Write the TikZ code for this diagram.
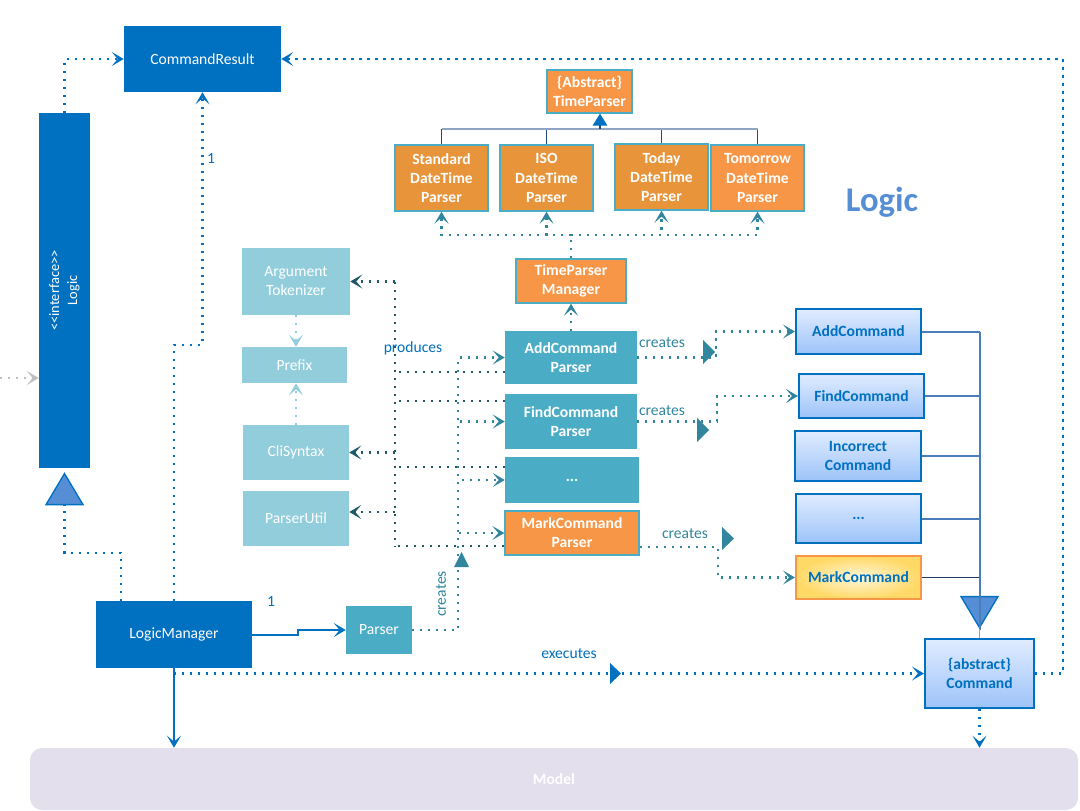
\documentclass[tikz,border=0pt]{standalone}
\usepackage{fontspec}
\setmainfont{Carlito}
\usetikzlibrary{arrows.meta,calc}

\definecolor{cBlue}{HTML}{0070C0}
\definecolor{cLight}{HTML}{92CDDC}
\definecolor{cTeal}{HTML}{4BACC6}
\definecolor{cOrange}{HTML}{F79646}
\definecolor{cOrangeD}{HTML}{E8943A}
\definecolor{cTealLine}{HTML}{31859C}
\definecolor{cTealDark}{HTML}{215968}
\definecolor{cGray}{HTML}{BFBFBF}
\definecolor{cGradTop}{HTML}{E0ECFF}
\definecolor{cGradBot}{HTML}{9DC3F9}
\definecolor{cMarkIn}{HTML}{FFF6DA}
\definecolor{cMarkOut}{HTML}{FFD966}
\definecolor{cModel}{HTML}{E4DFEC}
\definecolor{cTitle}{HTML}{558ED5}
\definecolor{cTri}{HTML}{558ED5}
\definecolor{cHierH}{HTML}{8EA4C2}
\definecolor{cHierV}{HTML}{1F497D}
\definecolor{cInh}{HTML}{4A7EBB}
\definecolor{cInhD}{HTML}{1F3864}

\newcommand{\diagfont}{\fontsize{11.7}{14.3}\selectfont}

\tikzset{
  every node/.style={font=\diagfont, inner sep=0pt, align=center},
  sz/.style 2 args={minimum width=#1*0.75pt, minimum height=#2*0.75pt},
  darkbox/.style={fill=cBlue, text=white},
  lightbox/.style={fill=cLight, text=white},
  tealbox/.style={fill=cTeal, text=white, font=\diagfont\bfseries},
  orangebox/.style={fill=cOrange, draw=cTeal, line width=1pt, text=white, font=\diagfont\bfseries},
  orangeboxd/.style={orangebox, fill=cOrangeD},
  cmdbox/.style={draw=cBlue, line width=1.6pt, top color=cGradTop, bottom color=cGradBot, text=cBlue, font=\diagfont\bfseries},
  markbox/.style={draw=cOrange, line width=1.6pt, inner color=cMarkIn, outer color=cMarkOut, text=cBlue, font=\diagfont\bfseries},
  modelbox/.style={fill=cModel, rounded corners=9pt, text=white, font=\diagfont\bfseries},
  dotbase/.style={line width=1.6pt, dash pattern=on 1.6pt off 4.4pt},
  dotblue/.style={dotbase, draw=cBlue},
  dotteal/.style={dotbase, draw=cTealLine},
  dotdark/.style={dotbase, draw=cTealDark},
  dotlight/.style={dotbase, draw=cLight},
  dotgray/.style={dotbase, draw=cGray},
  solidblue/.style={draw=cBlue, line width=1.5pt},
  head/.style={-{Stealth[length=9pt, width=10.5pt, inset=4.5pt]}},
  gentip/.style={-{Triangle[length=24.75pt, width=29.25pt, color=cBlue, fill=cTri, line width=1pt]}},
  hierh/.style={draw=cHierH, line width=1.5pt},
  hierv/.style={draw=cHierV, line width=0.8pt},
  inh/.style={draw=cInh, line width=1.5pt},
  inhdark/.style={draw=cInhD, line width=0.8pt},
  lab/.style={text=cBlue},
  tlab/.style={text=cTealLine}
}

\begin{document}
\begin{tikzpicture}[x=0.75pt,y=-0.75pt]
\useasboundingbox (0,0) rectangle (1080,810);
\clip (0,0) rectangle (1080,810);

% ---------- boxes ----------
\node[modelbox, sz={1048}{62}] (model) at (554,779) {Model};

\node[darkbox, sz={157}{66}] (cr) at (202.5,59) {CommandResult};
\node[darkbox, sz={51}{355}] (logic) at (64.5,290.5) {};
\node[rotate=90, text=white, font=\fontsize{10.8}{13.5}\selectfont] (logictxt) at (logic.center) {<\kern0pt<interface>\kern0pt>\\Logic};
\node[darkbox, sz={156}{67}] (lm) at (174,634.5) {LogicManager};
\node[fill=cTeal, text=white, sz={66}{48}] (parser) at (379,630) {Parser};

\node[orangebox, sz={85}{43}] (atp) at (589.5,91.5) {\{Abstract\}\\TimeParser};
\node[orangeboxd, sz={93}{66}] (sdt) at (441.5,178) {Standard\\DateTime\\Parser};
\node[orangeboxd, sz={93}{66}] (iso) at (546.5,178) {ISO\\DateTime\\Parser};
\node[orangeboxd, sz={93}{66}] (tdy) at (661.5,177) {Today\\DateTime\\Parser};
\node[orangebox, sz={93}{66}] (tmr) at (757.5,178) {Tomorrow\\DateTime\\Parser};
\node[orangebox, sz={110}{44}] (tpm) at (571,281) {TimeParser\\Manager};

\node[tealbox, sz={132}{53}] (acp) at (571,357.5) {AddCommand\\Parser};
\node[tealbox, sz={132}{55}] (fcp) at (571,421.5) {FindCommand\\Parser};
\node[tealbox, sz={134}{46}] (dcp) at (572,480) {...};
\node[orangebox, sz={134}{44}] (mcp) at (572,533) {MarkCommand\\Parser};

\node[lightbox, sz={108}{67}] (argt) at (296,281.5) {Argument\\Tokenizer};
\node[lightbox, sz={105}{36}] (prefix) at (294.5,365) {Prefix};
\node[lightbox, sz={106}{55}] (cli) at (296,452.5) {CliSyntax};
\node[lightbox, sz={106}{55}] (pu) at (296,518.5) {ParserUtil};

\node[cmdbox, sz={125}{45}] (addc) at (858.5,331.5) {AddCommand};
\node[cmdbox, sz={125}{44}] (findc) at (861.5,396) {FindCommand};
\node[cmdbox, sz={126}{50}] (incc) at (858,456) {Incorrect\\Command};
\node[cmdbox, sz={125}{49}] (dotc) at (858.5,518.5) {...};
\node[markbox, sz={125}{43}] (markc) at (858.5,577.5) {MarkCommand};
\node[cmdbox, sz={109}{69}] (cmd) at (979.5,673.5) {\{abstract\}\\Command};

\node[text=cTitle, font=\fontsize{26}{30}\selectfont\bfseries] (title) at (882,202) {Logic};

% ---------- TimeParser hierarchy ----------
\coordinate (hj) at (600,129);
\foreach \n in {sdt,iso,tdy,tmr} \draw[hierv] (\n.north) -- (\n.north |- hj);
\draw[hierh] (sdt.north |- hj) -- (tmr.north |- hj);
\draw[hierv, -{Triangle[length=9pt, width=11pt, color=cBlue]}] (hj) -- (hj |- atp.south);

\coordinate (tj) at (571,235);
\draw[dotteal] (tpm.north) -- (tj);
\foreach \n in {sdt,iso,tdy,tmr} \draw[dotteal, head] (tj) -| (\n.south);
\draw[dotteal, head] (acp.north) -- (tpm.south);

% ---------- Parser creates the command parsers ----------
\coordinate (pt) at (458,630);
\foreach \n in {acp,fcp,dcp,mcp} \draw[dotteal, head] (parser.east) -- (pt) |- (\n.west);
\fill[cTealLine] (461.5,552) -- (469,567) -- (454,567) -- cycle;
\node[tlab, rotate=90] (crlab0) at (441,594) {creates};

% ---------- command parsers use the parsing utilities ----------
\coordinate (ux) at (395,0);
\draw[dotdark] ([yshift=-10.9pt]acp.west) -- ([yshift=-10.9pt]acp.west -| ux);
\draw[dotdark] ([yshift=15.4pt]fcp.west) -- ([yshift=15.4pt]fcp.west -| ux);
\draw[dotdark] ([yshift=9.75pt]dcp.west) -- ([yshift=9.75pt]dcp.west -| ux);
\draw[dotdark] ([yshift=-9.75pt]mcp.west) -- ([yshift=-9.75pt]mcp.west -| ux);
\draw[dotdark] (argt.east -| ux) -- ([yshift=-9.75pt]mcp.west -| ux);
\draw[dotdark, head] (argt.east -| ux) -- (argt.east);
\draw[dotdark, head] (cli.east -| ux) -- (cli.east);
\draw[dotdark, head] ([yshift=4.9pt]pu.east -| ux) -- ([yshift=4.9pt]pu.east);
\node[lab] (prodlab) at (413,348) {produces};

\draw[dotlight, head] (argt.south) -- (argt.south |- prefix.north);
\draw[dotlight, head] (cli.north) -- (cli.north |- prefix.south);

% ---------- command parsers create commands ----------
\draw[dotteal, head] (acp.east) -- ++(79,0) |- (addc.west);
\fill[cTealLine] (703,340) -- (715,352) -- (703,364) -- cycle;
\node[tlab] (crlab1) at (662,343) {creates};

\draw[dotteal, head] (fcp.east) -- ++(80,0) |- (findc.west);
\fill[cTealLine] (697,418) -- (709,430) -- (697,442) -- cycle;
\node[tlab] (crlab2) at (662,411) {creates};

\draw[dotteal, head] ([yshift=-10.5pt]mcp.east) -- ++(78,0) |- (markc.west);
\fill[cTealLine] (722,527) -- (734,538.5) -- (722,550) -- cycle;
\node[tlab] (crlab3) at (685,534) {creates};

% ---------- command inheritance ----------
\coordinate (ix) at (979.5,0);
\foreach \n in {addc,findc,incc,dotc} \draw[inh] (\n.east) -- (\n.east -| ix);
\draw[inhdark] (markc.east) -- (markc.east -| ix);
\draw[inh, gentip] (addc.east -| ix) -- ([yshift=6.75pt]cmd.north);
\draw[inh] (addc.east -| ix) -- ([yshift=6pt]cmd.north);
\draw[draw=cInh!70, line width=0.8pt] ([yshift=6.75pt]cmd.north) -- (cmd.north);

% ---------- LogicManager and the interface ----------
\draw[dotblue, gentip] ([xshift=18.75pt]lm.north west) -- ++(0,-48) -| ([yshift=-3pt]logic.south);
\draw[dotblue, head] (logic.north) |- (cr.west);
\draw[dotblue, head] (lm.north) -- ++(0,-256) -| (cr.south);
\node[lab] (one1) at (211,158) {1};
\draw[dotblue, head] (cmd.east) -- ++(28,0) |- (cr.east);

\draw[solidblue, head] (lm.east) -- ++(46,0) |- (parser.west);
\node[lab] (one2) at (271,601) {1};

\draw[dotblue, head] (lm.south |- cmd.west) -- (cmd.west);
\fill[cBlue] (610,663) -- (621,673.5) -- (610,684) -- cycle;
\node[lab] (exlab) at (569,654) {executes};

\draw[solidblue, head] (lm.south) -- (lm.south |- model.north);
\draw[dotblue, head] (cmd.south) -- (cmd.south |- model.north);

\coordinate (ext) at (0,378);
\draw[dotgray, head] (ext) -- (ext -| logic.west);
\end{tikzpicture}
\end{document}
